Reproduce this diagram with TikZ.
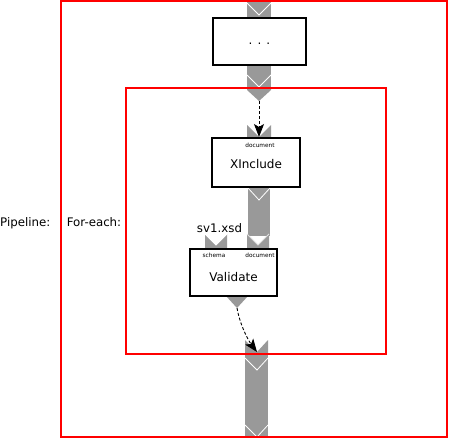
\documentclass[tikz,border=0pt]{standalone}
\usepackage{fontspec}
\setmainfont{DejaVu Sans}
\usetikzlibrary{arrows.meta}

\begin{document}
\begin{tikzpicture}[x=1pt,y=-1pt,
  box/.style={draw,line width=1.4pt,fill=white,inner sep=0pt,font=\fontsize{12}{13}\selectfont},
  txt/.style={inner sep=0pt,anchor=base,font=\fontsize{11.8}{13}\selectfont},
  lbl/.style={inner sep=0pt,anchor=base,font=\fontsize{5.8}{7}\selectfont},
  pipe/.style={fill=black!40},
  chev/.style={draw=white,line width=0.8pt},
  frame/.style={draw=red,line width=1.3pt},
  ar/.style={densely dashed,line width=0.9pt,-{Stealth[length=13pt,width=10pt,inset=3pt]}}]
\useasboundingbox (0,0) rectangle (449,439);
% pipes and ports
\fill[pipe] (247,0) rectangle (271,18);
\draw[chev] (247,3) -- (259,15) -- (271,3);
\fill[pipe] (247,65) rectangle (271,88);
\draw[chev] (247,75) -- (259,87) -- (271,75);
\fill[pipe] (247,88) -- (271,88) -- (271,90) -- (259,101) -- (247,90) -- cycle;
\coordinate (dotsout) at (259,101);
\fill[pipe] (247,125) -- (259,137) -- (271,125) -- (271,138) -- (247,138) -- cycle;
\coordinate (xiin) at (259,137);
\fill[pipe] (248,187) rectangle (270,236);
\draw[chev] (248,188) -- (259,200) -- (270,188);
\fill[pipe] (247,234) -- (258,245) -- (269,234) -- (269,249) -- (247,249) -- cycle;
\draw[chev,draw=white!75!gray] (247,234) -- (258,245) -- (269,234);
\fill[pipe] (205,234) -- (216,245) -- (227,234) -- (227,249) -- (205,249) -- cycle;
\draw[chev] (205,234) -- (216,245) -- (227,234);
\fill[pipe] (226,296) -- (248,296) -- (237,308) -- cycle;
\coordinate (valout) at (237,308);
\fill[pipe] (245,340) -- (257,352) -- (268,340) -- (268,354) -- (245,354) -- cycle;
\coordinate (feout) at (257,352);
\fill[pipe] (245,354) rectangle (268,437);
\draw[chev] (245,358) -- (257,370) -- (268,358);
\draw[chev] (245,425) -- (257,437) -- (268,425);
% steps
\node[box,minimum width=93pt,minimum height=47pt,text height=6pt,text depth=0pt] (dots) at (259.5,41.5) {. . .};
\node[box,minimum width=88pt,minimum height=49pt,text height=11pt,text depth=0pt] (xinc) at (256,162.5) {XInclude};
\node[lbl] (xidoc) at (260,147) {document};
\node[box,minimum width=87pt,minimum height=47pt,text height=17pt,text depth=0pt] (valid) at (233.5,272.5) {Validate};
\node[lbl] (vsch) at (214,257.5) {schema};
\node[lbl] (vdoc) at (260,257.5) {document};
\node[txt] (xsd) at (219.5,232) {sv1.xsd};
% connectors
\draw[ar] (dotsout) -- (xiin);
\draw[ar] (valout) .. controls (240,325) and (248,340) .. (feout);
% frames
\draw[frame] (61,1) rectangle (447,437);
\draw[frame] (126,88) rectangle (386,354);
\node[txt,anchor=base west] (pl) at (0,226) {Pipeline:};
\node[txt] (fe) at (94,226) {For-each:};
\end{tikzpicture}
\end{document}
